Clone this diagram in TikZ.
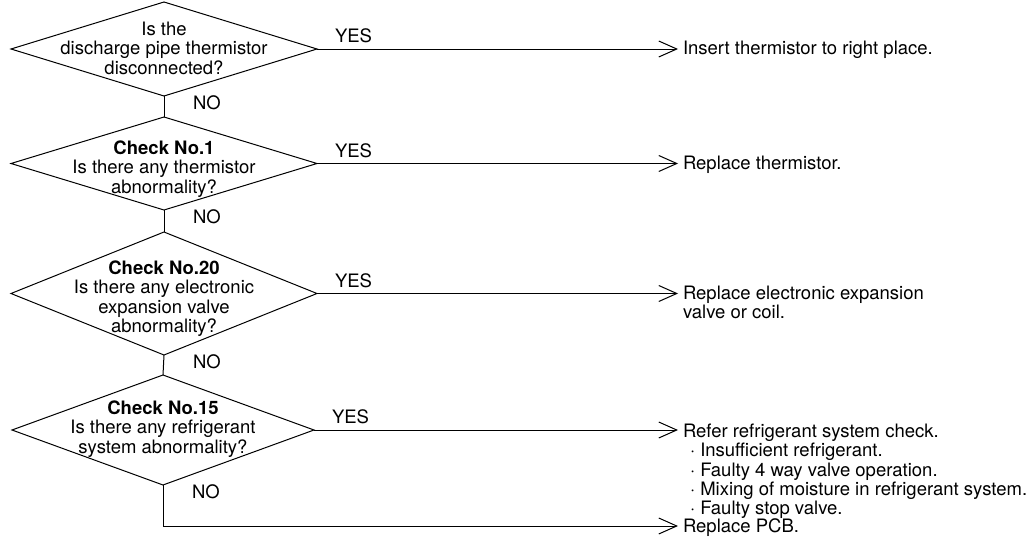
\documentclass[tikz,border=0pt]{standalone}
\usepackage{fontspec}
\setmainfont{TeX Gyre Heros}
\usetikzlibrary{shapes.geometric,arrows.meta}
\begin{document}
\begin{tikzpicture}[x=1pt,y=-1pt,
  every node/.style={font=\fontsize{18.5}{19}\selectfont, inner sep=0pt, outer sep=0pt},
  flow/.style={line width=1pt},
  go/.style={flow, -{Straight Barb[length=18pt,width=16pt]}},
  dia/.style={draw, line width=1pt, shape=diamond, minimum width=306pt},
  qtext/.style={anchor=base},
  result/.style={anchor=base west, inner xsep=5pt},
  yes/.style={anchor=base west, xshift=18pt, yshift=6.4pt},
  no/.style={anchor=north west, xshift=29pt},
]
\useasboundingbox (0,0) rectangle (1034,538);

% decision diamonds
\node[dia, minimum height=94pt]  (d1) at (164,49)    {};
\node[dia, minimum height=93pt]  (d2) at (164,163.5) {};
\node[dia, minimum height=123pt] (d3) at (164,293.5) {};
\node[dia, minimum height=110pt, minimum width=302pt] (d4) at (163,430) {};

% questions
\node[qtext] (q1) at (164,35.65) {\begin{tabular}[t]{@{}c@{}}Is the\\discharge pipe thermistor\\disconnected?\end{tabular}};
\node[qtext] (q2) at (164,154.65) {\begin{tabular}[t]{@{}c@{}}\bfseries Check No.1\\Is there any thermistor\\abnormality?\end{tabular}};
\node[qtext] (q3) at (164,274.65) {\begin{tabular}[t]{@{}c@{}}\bfseries Check No.20\\Is there any electronic\\expansion valve\\abnormality?\end{tabular}};
\node[qtext] (q4) at (163,414.65) {\begin{tabular}[t]{@{}c@{}}\bfseries Check No.15\\Is there any refrigerant\\system abnormality?\end{tabular}};

% remedies
\node[result] (r1) at (678,54.65) {Insert thermistor to right place.};
\node[result] (r2) at (678,169.65) {Replace thermistor.};
\node[result] (r3) at (678,299.65) {\begin{tabular}[t]{@{}l@{}}Replace electronic expansion\\valve or coil.\end{tabular}};
\node[result] (r4) at (678,437.65) {\begin{tabular}[t]{@{}l@{}}Refer refrigerant system check.\\
\hspace{7pt}· Insufficient refrigerant.\\
\hspace{7pt}· Faulty 4 way valve operation.\\
\hspace{7pt}· Mixing of moisture in refrigerant system.\\
\hspace{7pt}· Faulty stop valve.\end{tabular}};
\node[result] (r5) at (678,532.65) {Replace PCB.};

% YES branches
\draw[go] (d1.east) -- node[yes, at start] {YES} (d1.east -| r1.west);
\draw[go] (d2.east) -- node[yes, at start] {YES} (d2.east -| r2.west);
\draw[go] (d3.east) -- node[yes, at start] {YES} (d3.east -| r3.west);
\draw[go] (d4.east) -- node[yes, at start] {YES} (d4.east -| r4.west);

% NO branches
\draw[flow] (d1.south) -- node[no, at start] {NO} (d2.north);
\draw[flow] (d2.south) -- node[no, at start] {NO} (d3.north);
\draw[flow] (d3.south) -- node[no, at start] {NO} (d4.north);
\draw[go] (d4.south) |- node[no, at start] {NO} ([yshift=6.65pt]r5.base west);
\end{tikzpicture}
\end{document}
